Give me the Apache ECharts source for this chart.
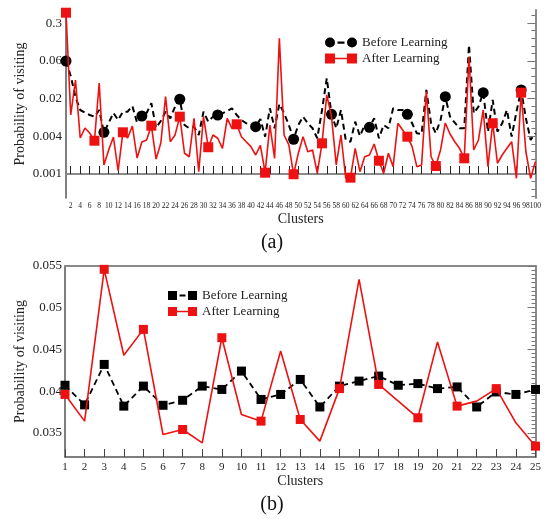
<!DOCTYPE html>
<html>
<head>
<meta charset="utf-8">
<script src="https://cdn.jsdelivr.net/npm/echarts@6/dist/echarts.min.js"></script>
<style>html,body{margin:0;padding:0;background:#fff}#c{width:544px;height:519px}</style>
</head>
<body>
<div id="c"></div>
<script>
// ---------- data ----------
const clustersTop = Array.from({length: 100}, (_, i) => String(i + 1));
const clustersBottom = Array.from({length: 25}, (_, i) => String(i + 1));

const beforeTop = [
0.0718,0.0407,0.0184,0.01125,0.0102,0.00931,0.00874,0.01125,0.00484,0.00689,
0.01005,0.00771,0.01055,0.01055,0.0131,0.00689,0.00897,0.01005,0.0145,0.00576,
0.00742,0.01055,0.00822,0.01275,0.0169,0.00638,0.00563,0.00598,0.00437,0.01055,
0.00723,0.00874,0.00931,0.00993,0.01083,0.0120,0.00931,0.00771,0.00681,0.00663,
0.00598,0.0080,0.00410,0.0120,0.00563,0.0141,0.00993,0.00638,0.00372,0.00638,
0.00874,0.00681,0.00563,0.00386,0.01125,0.0373,0.00957,0.00563,0.01125,0.00362,
0.00339,0.00723,0.00421,0.00638,0.00585,0.00822,0.00386,0.00638,0.00563,0.0120,
0.01125,0.01125,0.00957,0.00681,0.00466,0.00454,0.0240,0.00681,0.00466,0.00771,
0.0186,0.00874,0.00696,0.00563,0.00563,0.1315,0.00993,0.01275,0.0217,0.00495,
0.01643,0.00495,0.00681,0.01125,0.00410,0.01043,0.0240,0.00822,0.00362,0.00466];

const afterTop = [
0.446,0.00931,0.0350,0.00390,0.00570,0.00472,0.00352,0.0313,0.00141,0.00248,
0.00405,0.00113,0.00484,0.00390,0.00614,0.00183,0.00336,0.00362,0.00621,0.00176,
0.00323,0.0186,0.00339,0.00437,0.00874,0.00219,0.00192,0.00822,0.00109,0.00874,
0.00275,0.00437,0.00386,0.00264,0.00822,0.00563,0.00655,0.00410,0.00339,0.00281,
0.00205,0.00294,0.00105,0.00638,0.00181,0.1694,0.00437,0.00300,0.00099,0.00219,
0.00410,0.00232,0.00248,0.00103,0.00319,0.0199,0.00874,0.00141,0.00437,0.00085,
0.00087,0.00264,0.00109,0.00192,0.00205,0.00311,0.00165,0.00103,0.00219,0.00132,
0.00681,0.00528,0.00410,0.00281,0.00132,0.00141,0.0225,0.00192,0.00135,0.00248,
0.00689,0.00454,0.00339,0.00264,0.00181,0.0845,0.00248,0.00362,0.01125,0.00132,
0.00681,0.00150,0.00205,0.00264,0.00339,0.00085,0.0217,0.00232,0.00085,0.00159];

const beforeBottom = [0.0407,0.03835,0.0432,0.0382,0.0406,0.0383,0.0389,0.0406,0.0402,0.0424,
0.0390,0.0396,0.0414,0.0381,0.0406,0.0412,0.0418,0.0407,0.0409,0.0403,0.0405,0.0381,0.0399,0.0396,0.0402];
const afterBottom = [0.0396,0.0364,0.0546,0.0443,0.0474,0.0348,0.0354,0.0338,0.0464,0.0372,
0.0364,0.0448,0.0366,0.0340,0.0403,0.0534,0.0408,0.0388,0.0368,0.0459,0.0382,0.0388,0.0403,0.0362,0.0334];

const topTickLabels = ['0.001', '0.004', '0.02', '0.06', '0.3'];
const bottomTickValues = [0.035, 0.04, 0.045, 0.05, 0.055];
const bottomTickLabels = ['0.035', '0.04', '0.045', '0.05', '0.055'];

// ---------- scale helpers (top panel: log-type axis, one label step = ratio R) ----------
const P0 = 0.001, R = Math.pow(300, 0.25);
const toU = p => Math.log(p / P0) / Math.log(R);

const FONT = '"Liberation Serif", "DejaVu Serif", serif';
const RED = '#ee1111';
const FRAME = '#8a8a8a';
const AXIS = '#555';

const topMinorTicks = [];
for (let u = -0.6; u < 4.35; u += 0.2) topMinorTicks.push(+u.toFixed(2));
const bottomMinorTicks = [];
for (let v = 0.0325; v <= 0.05501; v += 0.0005) bottomMinorTicks.push(+v.toFixed(4));

const chart = echarts.init(document.getElementById('c'), null, {renderer: 'canvas'});

function xCat(grid, data, opts) {
  return Object.assign({
    type: 'category', gridIndex: grid, data: data, boundaryGap: false,
    axisLine: {lineStyle: {color: AXIS, width: 1.5}},
    splitLine: {show: false}
  }, opts);
}

chart.setOption({
  animation: false,
  backgroundColor: '#fff',
  textStyle: {fontFamily: FONT},
  grid: [
    {left: 66, top: 10, width: 470, height: 188},
    {left: 65, top: 266, width: 472, height: 191}
  ],
  xAxis: [
    xCat(0, clustersTop, {
      name: 'Clusters', nameLocation: 'middle', nameGap: 14,
      nameTextStyle: {fontSize: 14, fontFamily: FONT, color: '#222'},
      axisTick: {inside: true, length: 8, interval: (i) => i % 2 === 1, lineStyle: {color: '#222'}},
      axisLabel: {interval: (i) => i % 2 === 1, fontSize: 7.5, margin: 4, color: '#222', fontFamily: FONT}
    }),
    xCat(0, clustersTop, {position: 'top', axisTick: {show: false}, axisLabel: {show: false},
      axisLine: {lineStyle: {color: FRAME, width: 2}}}),
    xCat(1, clustersBottom, {
      name: 'Clusters', nameLocation: 'middle', nameGap: 16,
      nameTextStyle: {fontSize: 14, fontFamily: FONT, color: '#222'},
      axisTick: {inside: true, length: 8, interval: 0, lineStyle: {color: '#444'}},
      axisLabel: {interval: 0, fontSize: 11, margin: 5, color: '#222', fontFamily: FONT}
    }),
    xCat(1, clustersBottom, {position: 'top', axisTick: {show: false}, axisLabel: {show: false},
      axisLine: {lineStyle: {color: FRAME, width: 2}}})
  ],
  yAxis: [
    {
      type: 'value', gridIndex: 0, min: -0.637, max: 4.35,
      name: 'Probability of visiting', nameLocation: 'middle', nameGap: 39, nameMoveOverlap: false,
      nameTextStyle: {fontSize: 14, fontFamily: FONT, color: '#222'},
      axisLine: {show: true, lineStyle: {color: AXIS, width: 1.5}},
      axisTick: {show: false},
      splitLine: {show: false},
      axisLabel: {customValues: [0, 1, 2, 3, 4], formatter: v => topTickLabels[Math.round(v)],
        fontSize: 13, margin: 4, color: '#222', fontFamily: FONT}
    },
    {
      type: 'value', gridIndex: 0, position: 'right', min: -0.637, max: 4.35,
      axisLine: {show: true, lineStyle: {color: FRAME, width: 2}},
      axisTick: {show: true, inside: true, length: 4, customValues: topMinorTicks, lineStyle: {color: '#777'}},
      axisLabel: {show: false}, splitLine: {show: false}
    },
    {
      type: 'value', gridIndex: 0, position: 'right', min: -0.637, max: 4.35,
      axisLine: {show: false},
      axisTick: {show: true, inside: true, length: 8, customValues: [0, 1, 2, 3, 4], lineStyle: {color: '#777'}},
      axisLabel: {show: false}, splitLine: {show: false}
    },
    {
      type: 'value', gridIndex: 1, min: 0.0321, max: 0.055,
      name: 'Probability of visiting', nameLocation: 'middle', nameGap: 38, nameMoveOverlap: false,
      nameTextStyle: {fontSize: 14, fontFamily: FONT, color: '#222'},
      axisLine: {show: true, lineStyle: {color: AXIS, width: 1.5}},
      axisTick: {show: false},
      splitLine: {show: false},
      axisLabel: {customValues: bottomTickValues,
        formatter: v => bottomTickLabels[bottomTickValues.findIndex(t => Math.abs(t - v) < 1e-6)],
        fontSize: 13, margin: 3, color: '#222', fontFamily: FONT}
    },
    {
      type: 'value', gridIndex: 1, position: 'right', min: 0.0321, max: 0.055,
      axisLine: {show: true, lineStyle: {color: FRAME, width: 2}},
      axisTick: {show: true, inside: true, length: 4, customValues: bottomMinorTicks, lineStyle: {color: '#777'}},
      axisLabel: {show: false}, splitLine: {show: false}
    },
    {
      type: 'value', gridIndex: 1, position: 'right', min: 0.0321, max: 0.055,
      axisLine: {show: false},
      axisTick: {show: true, inside: true, length: 8, customValues: bottomTickValues, lineStyle: {color: '#777'}},
      axisLabel: {show: false}, splitLine: {show: false}
    }
  ],
  legend: [
    {
      left: 320, top: 31, orient: 'vertical', itemGap: 3, itemWidth: 32, itemHeight: 10,
      textStyle: {fontSize: 13, fontFamily: FONT, color: '#222'},
      data: [
        {name: 'Before Learning', icon: 'path://M0,5A5,5,0,1,1,10,5A5,5,0,1,1,0,5Z M12.5,4L19.5,4L19.5,6.2L12.5,6.2Z M22,5A5,5,0,1,1,32,5A5,5,0,1,1,22,5Z'},
        {name: 'After Learning', icon: 'path://M0,0L10,0L10,10L0,10Z M10,4.2L22,4.2L22,5.8L10,5.8Z M22,0L32,0L32,10L22,10Z'}
      ]
    },
    {
      left: 163, top: 284, orient: 'vertical', itemGap: 3, itemWidth: 29, itemHeight: 9,
      textStyle: {fontSize: 13, fontFamily: FONT, color: '#222'},
      formatter: n => n.replace(' (b)', ''),
      data: [
        {name: 'Before Learning (b)', icon: 'path://M0,0L9,0L9,9L0,9Z M11.5,3.6L17.5,3.6L17.5,5.6L11.5,5.6Z M20,0L29,0L29,9L20,9Z'},
        {name: 'After Learning (b)', icon: 'path://M0,0L9,0L9,9L0,9Z M9,3.8L20,3.8L20,5.2L9,5.2Z M20,0L29,0L29,9L20,9Z'}
      ]
    }
  ],
  graphic: [
    {type: 'text', left: 'center', top: 233, style: {text: '(a)', fontSize: 20, fontFamily: FONT, fill: '#111'}},
    {type: 'text', left: 'center', top: 495, style: {text: '(b)', fontSize: 20, fontFamily: FONT, fill: '#111'}}
  ],
  series: [
    {
      name: 'Before Learning', type: 'line', xAxisIndex: 0, yAxisIndex: 0,
      data: beforeTop.map(toU), showAllSymbol: true,
      symbol: 'circle', symbolSize: (v, p) => (p.dataIndex % 8 === 0 ? 11 : 0),
      itemStyle: {color: '#000'},
      lineStyle: {color: '#000', width: 2, type: [6, 4]}, z: 2
    },
    {
      name: 'After Learning', type: 'line', xAxisIndex: 0, yAxisIndex: 0,
      data: afterTop.map(toU), showAllSymbol: true,
      symbol: 'rect', symbolSize: (v, p) => (p.dataIndex % 6 === 0 ? 10 : 0),
      itemStyle: {color: RED},
      lineStyle: {color: RED, width: 1.6}, z: 3
    },
    {
      name: 'Before Learning (b)', type: 'line', xAxisIndex: 2, yAxisIndex: 3,
      data: beforeBottom, showAllSymbol: true,
      symbol: 'rect', symbolSize: 9,
      itemStyle: {color: '#000'},
      lineStyle: {color: '#000', width: 1.8, type: [6, 4]}, z: 2
    },
    {
      name: 'After Learning (b)', type: 'line', xAxisIndex: 2, yAxisIndex: 3,
      data: afterBottom, showAllSymbol: true,
      symbol: 'rect', symbolSize: (v, p) => (p.dataIndex % 2 === 0 ? 9 : 0),
      itemStyle: {color: RED},
      lineStyle: {color: RED, width: 1.6}, z: 3
    }
  ]
});
</script>
</body>
</html>
